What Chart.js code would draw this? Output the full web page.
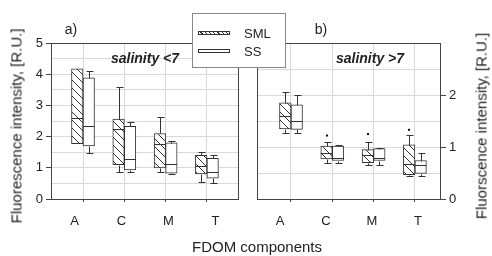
<!DOCTYPE html>
<html>
<head>
<meta charset="utf-8">
<script src="https://cdn.jsdelivr.net/npm/chart.js@4.4.1/dist/chart.umd.min.js"></script>
<style>
  body { margin: 0; background: #fff; font-family: "Liberation Sans", Arial, sans-serif; color: #222; }
  #wrap { position: relative; width: 492px; height: 256px; overflow: hidden; }
  .panel { position: absolute; top: 0; height: 256px; }
  .txt { position: absolute; white-space: nowrap; line-height: 1; transform: translate(-50%, -50%); }
  .ytitle { font-size: 15px; transform: translate(-50%, -50%) rotate(-90deg); }
  .sal { font-size: 14px; font-weight: bold; font-style: italic; }
  #legend { position: absolute; left: 192px; top: 13px; width: 94px; height: 55px; box-sizing: border-box; border: 1px solid #888; background: #fff; }
  .swatch { position: absolute; left: 5px; width: 32px; height: 4px; box-sizing: border-box; border: 1px solid #333; background: #fff; }
  .hatch { background: repeating-linear-gradient(45deg, #fff 0 2px, #333 2px 3px); }
  .ltext { position: absolute; left: 51px; font-size: 13px; line-height: 1; transform: translateY(-50%); }
</style>
</head>
<body>
<div id="wrap">
  <div class="panel" style="left:0;width:248px"><canvas id="chartLow"></canvas></div>
  <div class="panel" style="left:248px;width:244px"><canvas id="chartHigh"></canvas></div>

  <div class="txt ytitle" style="left:16px;top:126px">Fluorescence intensity, [R.U.]</div>
  <div class="txt ytitle" style="left:481px;top:126px">Fluorscence intensity, [R.U.]</div>
  <div class="txt" style="left:257px;top:246px;font-size:15px">FDOM components</div>
  <div class="txt" style="left:71px;top:29px;font-size:14px">a)</div>
  <div class="txt" style="left:321px;top:29px;font-size:14px">b)</div>
  <div class="txt sal" style="left:145px;top:58px">salinity &lt;7</div>
  <div class="txt sal" style="left:370px;top:58px">salinity &gt;7</div>

  <div id="legend">
    <div class="swatch hatch" style="top:17px"></div>
    <div class="ltext" style="top:19px">SML</div>
    <div class="swatch" style="top:35px"></div>
    <div class="ltext" style="top:37px">SS</div>
  </div>
</div>

<script>
const categories = ["A", "C", "M", "T"];
const leftTicks = [0, 1, 2, 3, 4, 5];
const rightTicks = [0, 1, 2];

// a) salinity < 7
const lowSmlMin = [1.77, 0.88, 0.87, 0.55];
const lowSmlQ1 = [1.77, 1.1, 1.0, 0.8];
const lowSmlMed = [2.6, 2.25, 1.75, 1.05];
const lowSmlQ3 = [4.17, 2.56, 2.1, 1.4];
const lowSmlMax = [4.17, 3.59, 2.62, 1.5];

const lowSsMin = [1.48, 0.87, 0.8, 0.5];
const lowSsQ1 = [1.7, 0.93, 0.83, 0.67];
const lowSsMed = [2.33, 1.28, 1.12, 0.88];
const lowSsQ3 = [3.88, 2.33, 1.8, 1.3];
const lowSsMax = [4.1, 2.48, 1.86, 1.4];

// b) salinity > 7
const highSmlMin = [1.27, 0.7, 0.66, 0.44];
const highSmlQ1 = [1.35, 0.77, 0.7, 0.47];
const highSmlMed = [1.6, 0.88, 0.84, 0.68];
const highSmlQ3 = [1.85, 1.02, 0.95, 1.04];
const highSmlMax = [2.05, 1.1, 1.1, 1.24];
const highSmlOut = [null, 1.22, 1.25, 1.33];

const highSsMin = [1.27, 0.7, 0.65, 0.45];
const highSsQ1 = [1.34, 0.74, 0.74, 0.49];
const highSsMed = [1.5, 0.79, 0.78, 0.65];
const highSsQ3 = [1.81, 1.02, 0.97, 0.74];
const highSsMax = [2.0, 1.04, 0.98, 0.89];

const font = { family: "Liberation Sans", size: 13 };
const gridColor = "#d9d9d9";
const inkColor = "#333";

function hatchPattern() {
  const c = document.createElement("canvas");
  c.width = 8;
  c.height = 8;
  const g = c.getContext("2d");
  g.fillStyle = "#fff";
  g.fillRect(0, 0, 8, 8);
  g.strokeStyle = inkColor;
  g.lineWidth = 1;
  g.beginPath();
  g.moveTo(-1, -1); g.lineTo(9, 9);
  g.moveTo(-1, 7); g.lineTo(1, 9);
  g.moveTo(7, -1); g.lineTo(9, 1);
  g.stroke();
  return g.createPattern(c, "repeat");
}
const hatch = hatchPattern();

function boxSet(label, min, q1, med, q3, max, out, fill) {
  return {
    label: label,
    data: categories.map((c, i) => ({ x: i + 1, y: [q1[i], q3[i]] })),
    stats: { min: min, med: med, max: max, out: out || [] },
    backgroundColor: fill,
    borderColor: inkColor,
    borderWidth: 1,
    borderSkipped: false,
    barThickness: 11.5,
  };
}

// whiskers, medians, outliers and the panel frame
const boxExtras = {
  id: "boxExtras",
  afterDatasetsDraw(chart) {
    const ctx = chart.ctx;
    const y = chart.scales.y;
    const px = (v) => Math.round(y.getPixelForValue(v)) + 0.5;
    ctx.save();
    ctx.strokeStyle = inkColor;
    ctx.fillStyle = "#111";
    ctx.lineWidth = 1;
    chart.data.datasets.forEach((ds, i) => {
      chart.getDatasetMeta(i).data.forEach((bar, j) => {
        const { x, width } = bar.getProps(["x", "width"], true);
        const cx = Math.round(x) + 0.5;
        const top = px(ds.data[j].y[1]);
        const bottom = px(ds.data[j].y[0]);
        const hi = px(ds.stats.max[j]);
        const lo = px(ds.stats.min[j]);
        const md = px(ds.stats.med[j]);
        ctx.beginPath();
        if (hi < top - 0.5) {
          ctx.moveTo(cx, top); ctx.lineTo(cx, hi);
          ctx.moveTo(cx - 3, hi); ctx.lineTo(cx + 4, hi);
        }
        if (lo > bottom + 0.5) {
          ctx.moveTo(cx, bottom); ctx.lineTo(cx, lo);
          ctx.moveTo(cx - 3, lo); ctx.lineTo(cx + 4, lo);
        }
        ctx.moveTo(x - width / 2, md); ctx.lineTo(x + width / 2, md);
        ctx.stroke();
        const o = ds.stats.out[j];
        if (o != null) {
          ctx.fillRect(cx - 1.5, y.getPixelForValue(o) - 1, 2, 2);
        }
      });
    });
    ctx.restore();
  },
  afterDraw(chart) {
    const { ctx, chartArea } = chart;
    ctx.save();
    ctx.strokeStyle = "#444";
    ctx.lineWidth = 1;
    ctx.strokeRect(chartArea.left + 0.5, chartArea.top + 0.5,
      chartArea.right - chartArea.left - 1, chartArea.bottom - chartArea.top);
    ctx.restore();
  },
};

function yAxis(position, max, labels) {
  return {
    position: position,
    min: 0,
    max: max,
    ticks: {
      stepSize: 0.5,
      autoSkip: false,
      color: "#222",
      font: font,
      padding: 3,
      callback: (v) => (labels.includes(v) ? v : ""),
    },
    grid: {
      color: gridColor,
      tickLength: 5,
      tickColor: (c) => (c.tick && labels.includes(c.tick.value) ? "#444" : "rgba(0,0,0,0)"),
    },
    border: { display: false },
    afterFit: (s) => { s.width = 51; },
  };
}

function xAxes(min, max) {
  return {
    x: {
      type: "linear",
      min: min,
      max: max,
      offset: false,
      weight: 0,
      ticks: { stepSize: 1, includeBounds: false, display: false },
      grid: { offset: false, color: gridColor, tickLength: 3, tickColor: "#444" },
      border: { display: false },
    },
    xl: {
      type: "category",
      axis: "x",
      position: "bottom",
      labels: categories,
      offset: true,
      weight: 1,
      grid: { display: false, drawTicks: false },
      border: { display: false },
      ticks: { color: "#222", font: font, padding: 12 },
      afterFit: (s) => { s.height = 54; },
    },
  };
}

new Chart(document.getElementById("chartLow"), {
  type: "bar",
  data: {
    datasets: [
      boxSet("SML", lowSmlMin, lowSmlQ1, lowSmlMed, lowSmlQ3, lowSmlMax, null, hatch),
      boxSet("SS", lowSsMin, lowSsQ1, lowSsMed, lowSsQ3, lowSsMax, null, "#fff"),
    ],
  },
  options: {
    responsive: true,
    maintainAspectRatio: false,
    animation: false,
    layout: { padding: { top: 43, right: 9, bottom: 0, left: 0 } },
    scales: Object.assign(xAxes(0.225, 4.777), { y: yAxis("left", 5, leftTicks) }),
    plugins: { legend: { display: false }, tooltip: { enabled: false } },
  },
  plugins: [boxExtras],
});

new Chart(document.getElementById("chartHigh"), {
  type: "bar",
  data: {
    datasets: [
      boxSet("SML", highSmlMin, highSmlQ1, highSmlMed, highSmlQ3, highSmlMax, highSmlOut, hatch),
      boxSet("SS", highSsMin, highSsQ1, highSsMed, highSsQ3, highSsMax, null, "#fff"),
    ],
  },
  options: {
    responsive: true,
    maintainAspectRatio: false,
    animation: false,
    layout: { padding: { top: 43, right: 0, bottom: 0, left: 9 } },
    scales: Object.assign(xAxes(0.177, 4.632), { y: yAxis("right", 3, rightTicks) }),
    plugins: { legend: { display: false }, tooltip: { enabled: false } },
  },
  plugins: [boxExtras],
});
</script>
</body>
</html>
